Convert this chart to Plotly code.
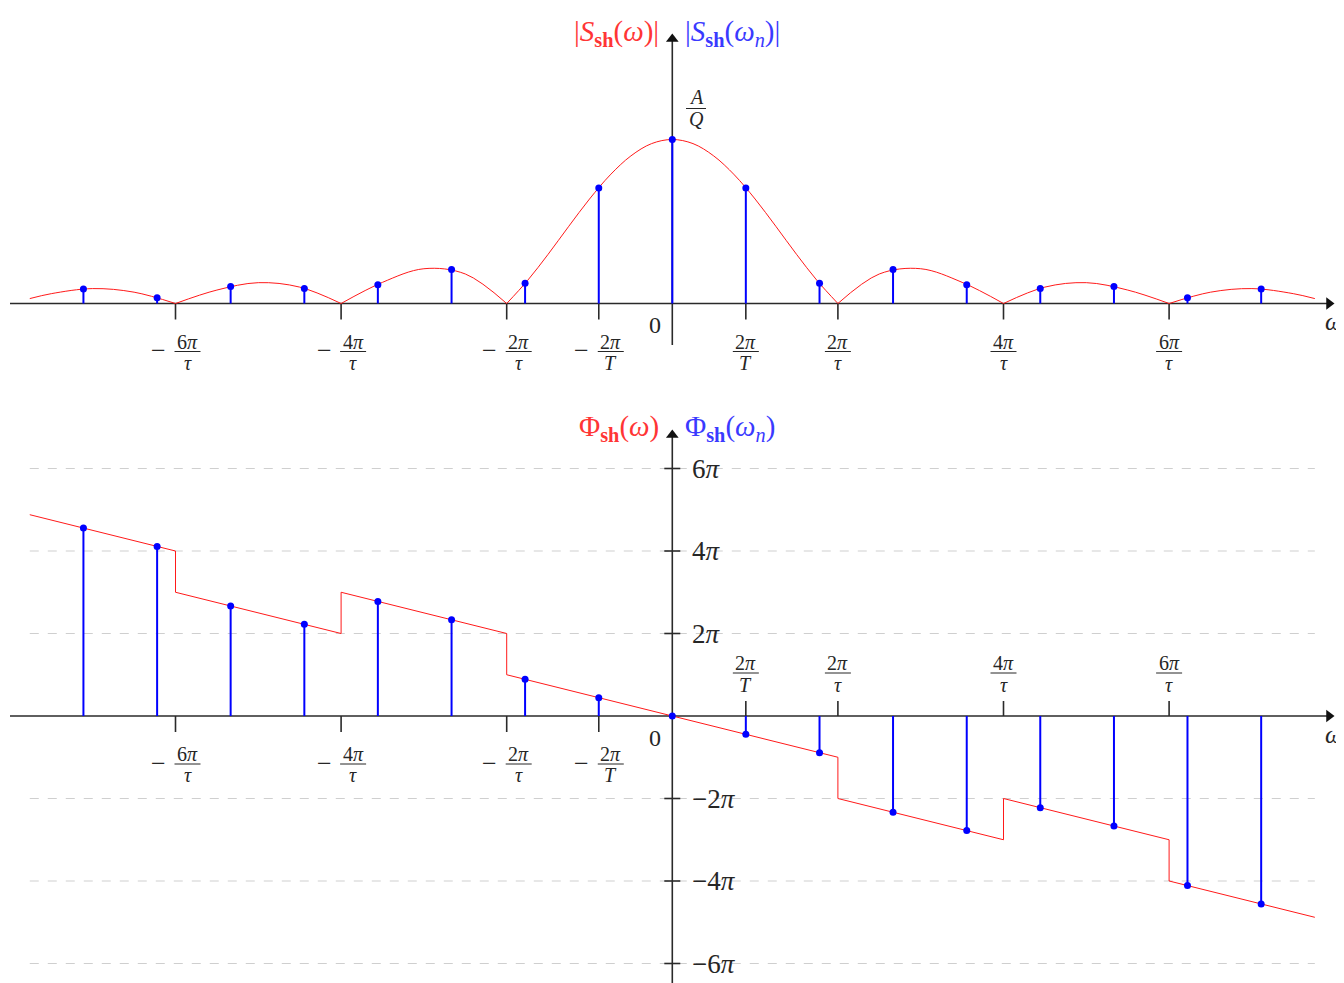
import plotly.graph_objects as go

# ---------------- data (omega in units of 2*pi/tau, phase in units of pi) -------------
# sampled spectrum (omega_n = n * 2pi/T, T = 2.25 tau)
omega_n = [-3.556, -3.111, -2.667, -2.222, -1.778, -1.333, -0.889, -0.444, 0.0,
           0.444, 0.889, 1.333, 1.778, 2.222, 2.667, 3.111, 3.556]
mag_n = [0.088, 0.035, 0.103, 0.092, 0.115, 0.207, 0.123, 0.705, 1.0,
         0.705, 0.123, 0.207, 0.115, 0.092, 0.103, 0.035, 0.088]
phase_n = [4.556, 4.111, 2.667, 2.222, 2.778, 2.333, 0.889, 0.444, 0.0,
           -0.444, -0.889, -2.333, -2.778, -2.222, -2.667, -4.111, -4.556]

# continuous magnitude |S_sh(omega)| (relative to A/Q)
curve_w = [-3.88, -3.75, -3.5, -3.25, -3.0, -2.75, -2.5, -2.25, -2.0, -1.75, -1.5, -1.25, -1.0,
           -0.875, -0.75, -0.625, -0.5, -0.375, -0.25, -0.125, 0.0,
           0.125, 0.25, 0.375, 0.5, 0.625, 0.75, 0.875, 1.0,
           1.25, 1.5, 1.75, 2.0, 2.25, 2.5, 2.75, 3.0, 3.25, 3.5, 3.75, 3.88]
curve_mag = [0.030, 0.060, 0.091, 0.069, 0.0, 0.082, 0.127, 0.100, 0.0, 0.129, 0.212, 0.180, 0.0,
             0.139, 0.300, 0.471, 0.637, 0.784, 0.900, 0.975, 1.0,
             0.975, 0.900, 0.784, 0.637, 0.471, 0.300, 0.139, 0.0,
             0.180, 0.212, 0.129, 0.0, 0.100, 0.127, 0.082, 0.0, 0.069, 0.091, 0.060, 0.030]

# continuous phase Phi_sh(omega)
phase_w = [-3.88, -3.0, -3.0, -2.0, -2.0, -1.0, -1.0, 1.0, 1.0, 2.0, 2.0, 3.0, 3.0, 3.88]
phase_curve = [4.88, 4.0, 3.0, 2.0, 3.0, 2.0, 1.0, -1.0, -2.0, -3.0, -2.0, -3.0, -4.0, -4.88]

# bottom panel y grid / tick labels (units of pi)
ygrid_vals = [6, 4, 2, -2, -4, -6]
ygrid_text = ["6<i>π</i>", "4<i>π</i>", "2<i>π</i>", "−2<i>π</i>", "−4<i>π</i>", "−6<i>π</i>"]

# x tick marks: position, numerator, denominator, negative?
xtick_pos = [-3.0, -2.0, -1.0, -0.444, 0.444, 1.0, 2.0, 3.0]
xtick_num = ["6<i>π</i>", "4<i>π</i>", "2<i>π</i>", "2<i>π</i>", "2<i>π</i>", "2<i>π</i>", "4<i>π</i>", "6<i>π</i>"]
xtick_den = ["<i>τ</i>", "<i>τ</i>", "<i>τ</i>", "<i>T</i>", "<i>T</i>", "<i>τ</i>", "<i>τ</i>", "<i>τ</i>"]
xtick_neg = [True, True, True, True, False, False, False, False]

# ---------------- pixel helpers (reference-picture pixel coordinates) ----------------
SW, SH = 1344, 983             # screen
OFF = 8                        # page body margin
W, H = SW - OFF, SH - OFF      # figure size
X0, XS = 672.3, 165.6          # origin px, px per unit
YT0, YTS = 303.5, 164.0        # top panel
YB0, YBS = 716.0, 41.25        # bottom panel (px per pi)
SPLIT = 390.0


def xd(p):
    return (p - X0) / XS


def yt(p):
    return (YT0 - p) / YTS


def yb(p):
    return (YB0 - p) / YBS


RED = "#ff1a1a"
BLUE = "#0000ff"
RED_T = "#ff3535"
BLUE_T = "#3a3aff"
AX = "#2a2a2a"
TXT = "#262626"
FONT = "Liberation Serif"

fig = go.Figure()

# magnitude curve, one trace per lobe
seg_x, seg_y = [], []
for xv, yv in zip(curve_w, curve_mag):
    seg_x.append(xv)
    seg_y.append(yv)
    if yv == 0 and len(seg_x) > 1:
        fig.add_trace(go.Scatter(x=seg_x, y=seg_y, mode="lines", xaxis="x", yaxis="y",
                                 line=dict(color=RED, width=1, shape="spline", smoothing=1.0),
                                 hoverinfo="skip"))
        seg_x, seg_y = [xv], [yv]
if len(seg_x) > 1:
    fig.add_trace(go.Scatter(x=seg_x, y=seg_y, mode="lines", xaxis="x", yaxis="y",
                             line=dict(color=RED, width=1, shape="spline", smoothing=1.0),
                             hoverinfo="skip"))

# phase curve
fig.add_trace(go.Scatter(x=phase_w, y=phase_curve, mode="lines", xaxis="x2", yaxis="y2",
                         line=dict(color=RED, width=1), hoverinfo="skip"))


def stems(xs, ys, xa, ya):
    sx, sy = [], []
    for xv, yv in zip(xs, ys):
        sx += [xv, xv, None]
        sy += [0, yv, None]
    fig.add_trace(go.Scatter(x=sx, y=sy, mode="lines", xaxis=xa, yaxis=ya,
                             line=dict(color=BLUE, width=2), hoverinfo="skip"))
    fig.add_trace(go.Scatter(x=xs, y=ys, mode="markers", xaxis=xa, yaxis=ya,
                             marker=dict(color=BLUE, size=7), hoverinfo="skip"))


stems(omega_n, mag_n, "x", "y")
stems(omega_n, phase_n, "x2", "y2")

# arrow heads of the axes
fig.add_trace(go.Scatter(x=[xd(1329)], y=[0], mode="markers", xaxis="x", yaxis="y",
                         marker=dict(symbol="triangle-right", size=11, color="#111111"),
                         hoverinfo="skip"))
fig.add_trace(go.Scatter(x=[0], y=[yt(39)], mode="markers", xaxis="x", yaxis="y",
                         marker=dict(symbol="triangle-up", size=11, color="#111111"),
                         hoverinfo="skip"))
fig.add_trace(go.Scatter(x=[xd(1329)], y=[0], mode="markers", xaxis="x2", yaxis="y2",
                         marker=dict(symbol="triangle-right", size=11, color="#111111"),
                         hoverinfo="skip"))
fig.add_trace(go.Scatter(x=[0], y=[yb(435)], mode="markers", xaxis="x2", yaxis="y2",
                         marker=dict(symbol="triangle-up", size=11, color="#111111"),
                         hoverinfo="skip"))

shapes = []
annotations = []

# grid lines (bottom)
for g in ygrid_vals:
    shapes.append(dict(type="line", xref="x2", yref="y2", x0=-3.88, x1=3.88, y0=g, y1=g,
                       line=dict(color="#cfcfcf", width=1, dash="dash"), layer="below"))


def axis_line(xr, yr, x0, y0, x1, y1):
    shapes.append(dict(type="line", xref=xr, yref=yr, x0=x0, y0=y0, x1=x1, y1=y1,
                       line=dict(color=AX, width=1.6), layer="below"))


axis_line("x", "y", xd(10), 0, xd(1330), 0)
axis_line("x", "y", 0, yt(345), 0, yt(40))
axis_line("x2", "y2", xd(10), 0, xd(1330), 0)
axis_line("x2", "y2", 0, yb(983), 0, yb(436))


def txt(xr, yr, x, y, s, size, color=TXT, xanchor="center", xshift=0, yshift=0):
    annotations.append(dict(xref=xr, yref=yr, x=x, y=y, text=s, showarrow=False,
                            xanchor=xanchor, yanchor="middle", xshift=xshift, yshift=yshift,
                            font=dict(family=FONT, size=size, color=color)))


FR = 20   # fraction font size


def tick_label(xr, yr, x, num, den, neg, above):
    if above:
        ty0, ty1 = 0, 15
        yn, ybar, yd_ = 53, 43, 31
    else:
        ty0, ty1 = 0, -16
        yn, ybar, yd_ = -38, -48, -59
    shapes.append(dict(type="line", xref=xr, yref=yr, xsizemode="pixel", ysizemode="pixel",
                       xanchor=x, yanchor=0, x0=0, x1=0, y0=ty0, y1=ty1,
                       line=dict(color=AX, width=1.6), layer="below"))
    c = 12 if neg else 0
    txt(xr, yr, x, 0, num, FR, xshift=c, yshift=yn)
    txt(xr, yr, x, 0, den, FR, xshift=c, yshift=yd_)
    shapes.append(dict(type="line", xref=xr, yref=yr, xsizemode="pixel", ysizemode="pixel",
                       xanchor=x, yanchor=0, x0=c - 13, x1=c + 13, y0=ybar, y1=ybar,
                       line=dict(color=TXT, width=1)))
    if neg:
        txt(xr, yr, x, 0, "−", 26, xshift=-17, yshift=ybar + 1)


for p, nm, dn, ng in zip(xtick_pos, xtick_num, xtick_den, xtick_neg):
    tick_label("x", "y", p, nm, dn, ng, False)
    tick_label("x2", "y2", p, nm, dn, ng, not ng)

# y ticks bottom panel
for g, s in zip(ygrid_vals, ygrid_text):
    shapes.append(dict(type="line", xref="x2", yref="y2", xsizemode="pixel", xanchor=0,
                       x0=-8, x1=8, y0=g, y1=g, line=dict(color=AX, width=1.6), layer="below"))
    txt("x2", "y2", 0, g, s, 27, xanchor="left", xshift=18)

# zero labels
txt("x", "y", xd(655), yt(325), "0", 24)
txt("x2", "y2", xd(655), yb(738), "0", 24)

# omega labels (cut at right edge)
txt("x", "y", xd(1323), yt(321), "<i>ω</i>", 25, xanchor="left")
txt("x2", "y2", xd(1323), yb(734), "<i>ω</i>", 25, xanchor="left")

# A/Q
txt("x", "y", xd(696), yt(97), "<i>A</i>", FR)
txt("x", "y", xd(696), yt(119), "<i>Q</i>", FR)
shapes.append(dict(type="line", xref="x", yref="y", x0=xd(686), x1=xd(706),
                   y0=yt(108.5), y1=yt(108.5), line=dict(color=TXT, width=1)))

# axis titles
txt("x", "y", xd(661), yt(33), "|<i>S</i><sub><b>sh</b></sub>(<i>ω</i>)|", 29, color=RED_T, xanchor="right")
txt("x", "y", xd(683), yt(33), "|<i>S</i><sub><b>sh</b></sub>(<i>ω</i><sub><i>n</i></sub>)|", 29, color=BLUE_T, xanchor="left")
txt("x2", "y2", xd(661), yb(428), "Φ<sub><b>sh</b></sub>(<i>ω</i>)", 29, color=RED_T, xanchor="right")
txt("x2", "y2", xd(683), yb(428), "Φ<sub><b>sh</b></sub>(<i>ω</i><sub><i>n</i></sub>)", 29, color=BLUE_T, xanchor="left")

xr = [xd(OFF), xd(SW)]
dom_split = 1 - (SPLIT - OFF) / H
fig.update_layout(
    width=W, height=H,
    margin=dict(l=0, r=0, t=0, b=0),
    paper_bgcolor="white", plot_bgcolor="white",
    showlegend=False,
    xaxis=dict(domain=[0, 1], range=xr, visible=False, anchor="y"),
    yaxis=dict(domain=[dom_split, 1], range=[yt(SPLIT), yt(OFF)], visible=False, anchor="x"),
    xaxis2=dict(domain=[0, 1], range=xr, visible=False, anchor="y2"),
    yaxis2=dict(domain=[0, dom_split], range=[yb(SH), yb(SPLIT)], visible=False, anchor="x2"),
    shapes=shapes,
    annotations=annotations,
)

fig.write_html("out.html")
